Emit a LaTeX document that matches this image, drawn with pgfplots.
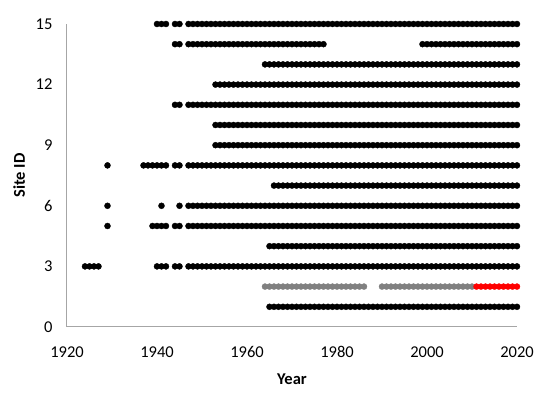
\documentclass[border=0pt]{standalone}
\usepackage{fontspec}
\setmainfont{Carlito}
\usepackage{pgfplots}
\usepackage{pgfplotstable}
\pgfplotsset{compat=1.18}
\definecolor{axisgray}{RGB}{166,166,166}
\definecolor{dotgray}{RGB}{128,128,128}

% one row per year, one column per site; nan = no record that year
\pgfplotstableread{
year s1 gr rd s3 s4 s5 s6 s7 s8 s9 s10 s11 s12 s13 s14 s15
1924 nan nan nan 3 nan nan nan nan nan nan nan nan nan nan nan nan
1925 nan nan nan 3 nan nan nan nan nan nan nan nan nan nan nan nan
1926 nan nan nan 3 nan nan nan nan nan nan nan nan nan nan nan nan
1927 nan nan nan 3 nan nan nan nan nan nan nan nan nan nan nan nan
1929 nan nan nan nan nan 5 6 nan 8 nan nan nan nan nan nan nan
1937 nan nan nan nan nan nan nan nan 8 nan nan nan nan nan nan nan
1938 nan nan nan nan nan nan nan nan 8 nan nan nan nan nan nan nan
1939 nan nan nan nan nan 5 nan nan 8 nan nan nan nan nan nan nan
1940 nan nan nan 3 nan 5 nan nan 8 nan nan nan nan nan nan 15
1941 nan nan nan 3 nan 5 6 nan 8 nan nan nan nan nan nan 15
1942 nan nan nan 3 nan 5 nan nan 8 nan nan nan nan nan nan 15
1944 nan nan nan 3 nan 5 nan nan 8 nan nan 11 nan nan 14 15
1945 nan nan nan 3 nan 5 6 nan 8 nan nan 11 nan nan 14 15
1947 nan nan nan 3 nan 5 6 nan 8 nan nan 11 nan nan 14 15
1948 nan nan nan 3 nan 5 6 nan 8 nan nan 11 nan nan 14 15
1949 nan nan nan 3 nan 5 6 nan 8 nan nan 11 nan nan 14 15
1950 nan nan nan 3 nan 5 6 nan 8 nan nan 11 nan nan 14 15
1951 nan nan nan 3 nan 5 6 nan 8 nan nan 11 nan nan 14 15
1952 nan nan nan 3 nan 5 6 nan 8 nan nan 11 nan nan 14 15
1953 nan nan nan 3 nan 5 6 nan 8 9 10 11 12 nan 14 15
1954 nan nan nan 3 nan 5 6 nan 8 9 10 11 12 nan 14 15
1955 nan nan nan 3 nan 5 6 nan 8 9 10 11 12 nan 14 15
1956 nan nan nan 3 nan 5 6 nan 8 9 10 11 12 nan 14 15
1957 nan nan nan 3 nan 5 6 nan 8 9 10 11 12 nan 14 15
1958 nan nan nan 3 nan 5 6 nan 8 9 10 11 12 nan 14 15
1959 nan nan nan 3 nan 5 6 nan 8 9 10 11 12 nan 14 15
1960 nan nan nan 3 nan 5 6 nan 8 9 10 11 12 nan 14 15
1961 nan nan nan 3 nan 5 6 nan 8 9 10 11 12 nan 14 15
1962 nan nan nan 3 nan 5 6 nan 8 9 10 11 12 nan 14 15
1963 nan nan nan 3 nan 5 6 nan 8 9 10 11 12 nan 14 15
1964 nan 2 nan 3 nan 5 6 nan 8 9 10 11 12 13 14 15
1965 1 2 nan 3 4 5 6 nan 8 9 10 11 12 13 14 15
1966 1 2 nan 3 4 5 6 7 8 9 10 11 12 13 14 15
1967 1 2 nan 3 4 5 6 7 8 9 10 11 12 13 14 15
1968 1 2 nan 3 4 5 6 7 8 9 10 11 12 13 14 15
1969 1 2 nan 3 4 5 6 7 8 9 10 11 12 13 14 15
1970 1 2 nan 3 4 5 6 7 8 9 10 11 12 13 14 15
1971 1 2 nan 3 4 5 6 7 8 9 10 11 12 13 14 15
1972 1 2 nan 3 4 5 6 7 8 9 10 11 12 13 14 15
1973 1 2 nan 3 4 5 6 7 8 9 10 11 12 13 14 15
1974 1 2 nan 3 4 5 6 7 8 9 10 11 12 13 14 15
1975 1 2 nan 3 4 5 6 7 8 9 10 11 12 13 14 15
1976 1 2 nan 3 4 5 6 7 8 9 10 11 12 13 14 15
1977 1 2 nan 3 4 5 6 7 8 9 10 11 12 13 14 15
1978 1 2 nan 3 4 5 6 7 8 9 10 11 12 13 nan 15
1979 1 2 nan 3 4 5 6 7 8 9 10 11 12 13 nan 15
1980 1 2 nan 3 4 5 6 7 8 9 10 11 12 13 nan 15
1981 1 2 nan 3 4 5 6 7 8 9 10 11 12 13 nan 15
1982 1 2 nan 3 4 5 6 7 8 9 10 11 12 13 nan 15
1983 1 2 nan 3 4 5 6 7 8 9 10 11 12 13 nan 15
1984 1 2 nan 3 4 5 6 7 8 9 10 11 12 13 nan 15
1985 1 2 nan 3 4 5 6 7 8 9 10 11 12 13 nan 15
1986 1 2 nan 3 4 5 6 7 8 9 10 11 12 13 nan 15
1987 1 nan nan 3 4 5 6 7 8 9 10 11 12 13 nan 15
1988 1 nan nan 3 4 5 6 7 8 9 10 11 12 13 nan 15
1989 1 nan nan 3 4 5 6 7 8 9 10 11 12 13 nan 15
1990 1 2 nan 3 4 5 6 7 8 9 10 11 12 13 nan 15
1991 1 2 nan 3 4 5 6 7 8 9 10 11 12 13 nan 15
1992 1 2 nan 3 4 5 6 7 8 9 10 11 12 13 nan 15
1993 1 2 nan 3 4 5 6 7 8 9 10 11 12 13 nan 15
1994 1 2 nan 3 4 5 6 7 8 9 10 11 12 13 nan 15
1995 1 2 nan 3 4 5 6 7 8 9 10 11 12 13 nan 15
1996 1 2 nan 3 4 5 6 7 8 9 10 11 12 13 nan 15
1997 1 2 nan 3 4 5 6 7 8 9 10 11 12 13 nan 15
1998 1 2 nan 3 4 5 6 7 8 9 10 11 12 13 nan 15
1999 1 2 nan 3 4 5 6 7 8 9 10 11 12 13 14 15
2000 1 2 nan 3 4 5 6 7 8 9 10 11 12 13 14 15
2001 1 2 nan 3 4 5 6 7 8 9 10 11 12 13 14 15
2002 1 2 nan 3 4 5 6 7 8 9 10 11 12 13 14 15
2003 1 2 nan 3 4 5 6 7 8 9 10 11 12 13 14 15
2004 1 2 nan 3 4 5 6 7 8 9 10 11 12 13 14 15
2005 1 2 nan 3 4 5 6 7 8 9 10 11 12 13 14 15
2006 1 2 nan 3 4 5 6 7 8 9 10 11 12 13 14 15
2007 1 2 nan 3 4 5 6 7 8 9 10 11 12 13 14 15
2008 1 2 nan 3 4 5 6 7 8 9 10 11 12 13 14 15
2009 1 2 nan 3 4 5 6 7 8 9 10 11 12 13 14 15
2010 1 2 nan 3 4 5 6 7 8 9 10 11 12 13 14 15
2011 1 nan 2 3 4 5 6 7 8 9 10 11 12 13 14 15
2012 1 nan 2 3 4 5 6 7 8 9 10 11 12 13 14 15
2013 1 nan 2 3 4 5 6 7 8 9 10 11 12 13 14 15
2014 1 nan 2 3 4 5 6 7 8 9 10 11 12 13 14 15
2015 1 nan 2 3 4 5 6 7 8 9 10 11 12 13 14 15
2016 1 nan 2 3 4 5 6 7 8 9 10 11 12 13 14 15
2017 1 nan 2 3 4 5 6 7 8 9 10 11 12 13 14 15
2018 1 nan 2 3 4 5 6 7 8 9 10 11 12 13 14 15
2019 1 nan 2 3 4 5 6 7 8 9 10 11 12 13 14 15
2020 1 nan 2 3 4 5 6 7 8 9 10 11 12 13 14 15
}\sites

\begin{document}
\begin{tikzpicture}
\begin{axis}[
    scale only axis,
    width=450pt,
    height=303pt,
    xmin=1920, xmax=2020,
    ymin=0, ymax=15,
    xtick={1920,1940,...,2020},
    ytick={0,3,...,15},
    axis x line*=bottom,
    axis y line*=left,
    axis line style={axisgray, line width=1pt},
    major tick length=0pt,
    clip=false,
    font=\fontsize{16.5}{20}\selectfont,
    /pgf/number format/assume math mode=true,
    /pgf/number format/1000 sep={},
    xticklabel style={yshift=-16pt},
    yticklabel style={xshift=-11pt},
    xlabel={\bfseries Year},
    ylabel={\bfseries Site ID},
    xlabel style={yshift=-9pt},
    ylabel style={yshift=4pt},
    only marks,
    mark=*,
    mark size=3pt,
]
\pgfplotsinvokeforeach{s1,s3,s4,s5,s6,s7,s8,s9,s10,s11,s12,s13,s14,s15}{
  \addplot[only marks, mark=*, mark size=3pt, black] table[x=year, y=#1] {\sites};
}
\addplot[only marks, mark=*, mark size=3pt, dotgray] table[x=year, y=gr] {\sites};
\addplot[only marks, mark=*, mark size=3pt, red] table[x=year, y=rd] {\sites};
\end{axis}
\pgfresetboundingbox
\path (current axis.south west) ++(-67pt,-68pt) rectangle ++(550pt,395pt);
\end{tikzpicture}
\end{document}
